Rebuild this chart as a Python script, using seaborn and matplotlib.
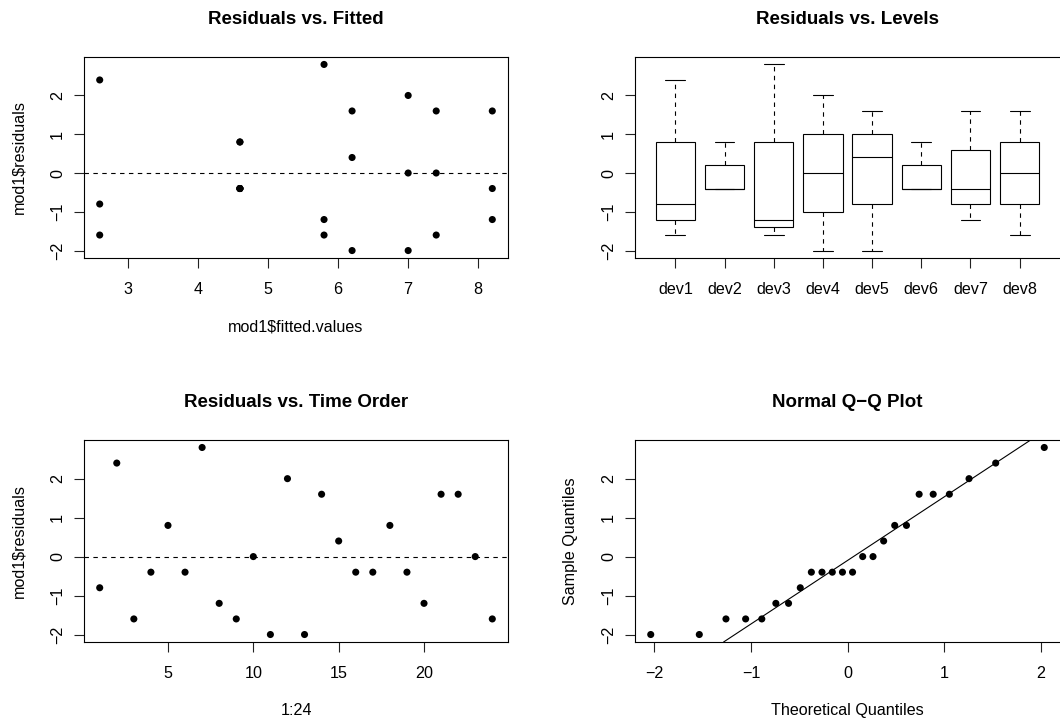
import statistics
import numpy as np
import pandas as pd
import matplotlib
matplotlib.use("Agg")
import matplotlib.pyplot as plt
import seaborn as sns

# ---- data ----
time_order = list(range(1, 25))
devices = ["dev1"] * 3 + ["dev2"] * 3 + ["dev3"] * 3 + ["dev4"] * 3 + \
          ["dev5"] * 3 + ["dev6"] * 3 + ["dev7"] * 3 + ["dev8"] * 3
level_order = ["dev1", "dev2", "dev3", "dev4", "dev5", "dev6", "dev7", "dev8"]
fitted = [2.6, 2.6, 2.6, 4.6, 4.6, 4.6, 5.8, 5.8, 5.8, 7.0, 7.0, 7.0,
          6.2, 6.2, 6.2, 4.6, 4.6, 4.6, 8.2, 8.2, 8.2, 7.4, 7.4, 7.4]
residuals = [-0.8, 2.4, -1.6, -0.4, 0.8, -0.4, 2.8, -1.2, -1.6, 0.0, -2.0, 2.0,
             -2.0, 1.6, 0.4, -0.4, -0.4, 0.8, -0.4, -1.2, 1.6, 1.6, 0.0, -1.6]
y_ticks = [-2, -1, 0, 1, 2]

df = pd.DataFrame({"order": time_order, "device": devices,
                   "fitted": fitted, "resid": residuals})

# Normal Q-Q (as qqnorm / qqline)
n = len(residuals)
sample_q = sorted(residuals)
theo_q = [statistics.NormalDist().inv_cdf((i - 0.5) / n) for i in range(1, n + 1)]
y25, y75 = np.quantile(residuals, [0.25, 0.75])
x25, x75 = statistics.NormalDist().inv_cdf(0.25), statistics.NormalDist().inv_cdf(0.75)
qq_slope = (y75 - y25) / (x75 - x25)

# ---- style ----
sns.set_style("ticks")
plt.rcParams["font.family"] = ["Liberation Sans", "DejaVu Sans"]
plt.rcParams["text.color"] = "black"
plt.rcParams["axes.labelcolor"] = "black"
plt.rcParams["xtick.color"] = "black"
plt.rcParams["ytick.color"] = "black"
LW = 0.8
FS = 11.6
TFS = 13.5
DOT = 26

W, H = 1060, 721
fig = plt.figure(figsize=(W / 100, H / 100), dpi=100)


def add_axes(x0, x1, ytop, ybot):
    return fig.add_axes([x0 / W, 1 - ybot / H, (x1 - x0) / W, (ybot - ytop) / H])


def r_lim(lo, hi):
    d = (hi - lo) * 0.04
    return lo - d, hi + d


def style(ax, title, xlabel=None, ylabel=None, right_spine=True):
    for sp in ax.spines.values():
        sp.set_visible(True)
        sp.set_color("black")
        sp.set_linewidth(LW)
    ax.spines["right"].set_visible(right_spine)
    ax.tick_params(direction="out", length=7.2, width=LW, color="#222222",
                   labelsize=FS, labelcolor="black")
    ax.tick_params(axis="x", pad=10)
    ax.tick_params(axis="y", pad=6.5, labelrotation=90)
    ax.set_yticks(y_ticks)
    for lab in ax.get_yticklabels():
        lab.set_va("center")
    ax.set_ylim(*r_lim(min(residuals), max(residuals)))
    ax.set_title(title, fontsize=TFS, fontweight="bold", pad=24, color="black")
    ax.set_xlabel(xlabel if xlabel else "", fontsize=FS, color="black")
    ax.set_ylabel(ylabel if ylabel else "", fontsize=FS, color="black")
    hpx = ax.get_position().height * H
    wpx = ax.get_position().width * W
    ax.xaxis.set_label_coords(0.5, -61 / hpx)
    ax.yaxis.set_label_coords(-57.5 / wpx, 0.5)


# Residuals vs Fitted
ax1 = add_axes(84, 508, 57, 258)
sns.scatterplot(data=df, x="fitted", y="resid", ax=ax1, color="black",
                s=DOT, edgecolor="none", linewidth=0)
ax1.axhline(0, color="black", lw=LW, ls=(0, (4, 4)))
ax1.set_xlim(*r_lim(min(fitted), max(fitted)))
ax1.set_xticks([3, 4, 5, 6, 7, 8])
style(ax1, "Residuals vs. Fitted", "mod1$fitted.values", "mod1$residuals")

# Residuals vs Levels
ax2 = add_axes(635, 1060, 57, 258)
sns.boxplot(data=df, x="device", y="resid", order=level_order, ax=ax2,
            color="white", linecolor="black", linewidth=LW, width=0.8,
            whis=(0, 100), fliersize=0,
            whiskerprops=dict(linestyle=(0, (4, 4))))
ax2.set_xlim(*r_lim(-0.5, len(level_order) - 0.5))
style(ax2, "Residuals vs. Levels", right_spine=False)

# Residuals vs Time Order
ax3 = add_axes(84, 508, 440, 642)
sns.scatterplot(data=df, x="order", y="resid", ax=ax3, color="black",
                s=DOT, edgecolor="none", linewidth=0)
ax3.axhline(0, color="black", lw=LW, ls=(0, (4, 4)))
ax3.set_xlim(*r_lim(min(time_order), max(time_order)))
ax3.set_xticks([5, 10, 15, 20])
style(ax3, "Residuals vs. Time Order", "1:24", "mod1$residuals")

# Normal Q-Q
ax4 = add_axes(635, 1060, 440, 642)
sns.scatterplot(x=theo_q, y=sample_q, ax=ax4, color="black",
                s=DOT, edgecolor="none", linewidth=0)
ax4.axline((x25, y25), slope=qq_slope, color="black", lw=LW)
ax4.set_xlim(*r_lim(min(theo_q), max(theo_q)))
ax4.set_xticks([-2, -1, 0, 1, 2])
style(ax4, "Normal Q\u2212Q Plot", "Theoretical Quantiles", "Sample Quantiles",
      right_spine=False)

fig.savefig("out.png", dpi=100)
